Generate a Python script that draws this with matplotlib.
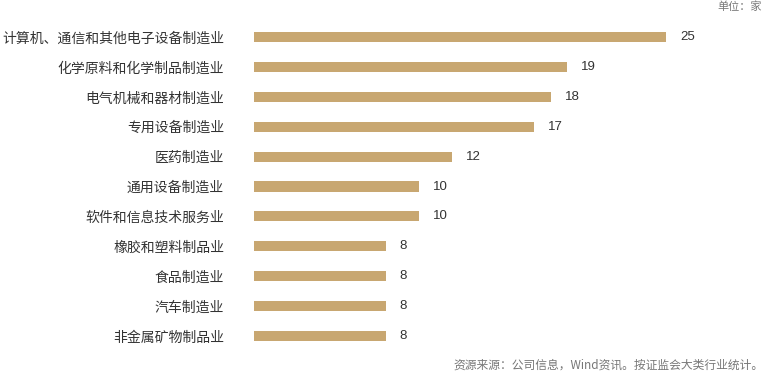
import matplotlib.pyplot as plt

plt.rcParams['font.family'] = ['Noto Sans CJK SC', 'DejaVu Sans']

industries = ["计算机、通信和其他电子设备制造业", "化学原料和化学制品制造业", "电气机械和器材制造业",
              "专用设备制造业", "医药制造业", "通用设备制造业", "软件和信息技术服务业",
              "橡胶和塑料制品业", "食品制造业", "汽车制造业", "非金属矿物制品业"]
counts = [25, 19, 18, 17, 12, 10, 10, 8, 8, 8, 8]

fig = plt.figure(figsize=(7.7, 3.72), dpi=100)
W, H = 770, 372
ax = fig.add_axes([254 / W, 1 - 351 / H, 412 / W, 329 / H])

pos = list(range(len(industries)))
ax.barh(pos, counts, height=0.34, color='#C8A771')
ax.set_xlim(0, 25)
ax.set_ylim(len(industries) - 0.5, -0.5)

for p, v in zip(pos, counts):
    ax.text(v + 0.85, p, str(v), va='center', ha='left', fontsize=9.5, color='#333333',
            family=['Liberation Sans', 'DejaVu Sans'])

ax.set_yticks(pos)
ax.set_yticklabels(industries, fontsize=10, color='#333333')
ax.tick_params(axis='y', length=0, pad=21.5)
ax.set_xticks([])
for s in ax.spines.values():
    s.set_visible(False)

fig.text(762 / W, 1 - 7 / H, "单位：家", ha='right', va='center', fontsize=8, color='#777777')
fig.text(764 / W, 1 - 365 / H, "资源来源：公司信息，Wind资讯。按证监会大类行业统计。", ha='right', va='center',
         fontsize=8.5, color='#777777')

fig.savefig('out.png', dpi=100)
